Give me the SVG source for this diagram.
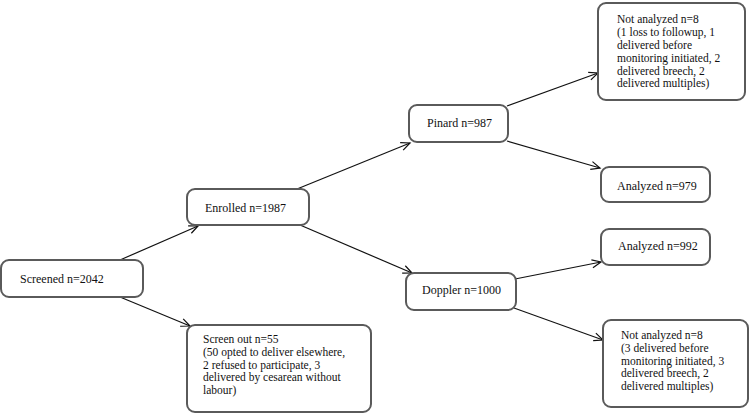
<svg xmlns="http://www.w3.org/2000/svg" width="750" height="415" viewBox="0 0 750 415">
<style>
.box{fill:#fff;stroke:#5a5a5a;stroke-width:2}
.c{stroke:#111;stroke-width:1.2;fill:none;marker-end:url(#a)}
</style>
<defs>
<marker id="a" markerWidth="12" markerHeight="12" refX="10" refY="5" orient="auto" markerUnits="userSpaceOnUse">
<path d="M1,1 L10,5 L1,9" fill="none" stroke="#111" stroke-width="1.2"/>
</marker>
</defs>
<g id="connectors">
<line class="c" x1="120" y1="260" x2="198" y2="226"/>
<line class="c" x1="120" y1="297" x2="190" y2="326"/>
<line class="c" x1="297" y1="189" x2="410" y2="143"/>
<line class="c" x1="300" y1="225" x2="412" y2="273"/>
<line class="c" x1="507" y1="106" x2="598" y2="73"/>
<line class="c" x1="507" y1="141" x2="600" y2="168"/>
<line class="c" x1="515" y1="279" x2="601" y2="262"/>
<line class="c" x1="514" y1="308" x2="603" y2="340"/>
</g>
<g font-family="Liberation Serif, Times New Roman, serif" font-size="12" fill="#111">
<g id="screened">
<rect class="box" x="1" y="260" width="142" height="37" rx="8"/>
<text x="20" y="283">Screened n=2042</text>
</g>
<g id="enrolled">
<rect class="box" x="187" y="189" width="122" height="36" rx="8"/>
<text x="205" y="212">Enrolled n=1987</text>
</g>
<g id="pinard">
<rect class="box" x="409" y="105" width="99" height="37" rx="8"/>
<text x="427" y="127">Pinard n=987</text>
</g>
<g id="doppler">
<rect class="box" x="406" y="273" width="110" height="37" rx="8"/>
<text x="422" y="294">Doppler n=1000</text>
</g>
<g id="screenout" font-size="11.5">
<rect class="box" x="187" y="325" width="184" height="87" rx="8"/>
<text x="203" y="343">Screen out n=55</text>
<text x="203" y="355.8">(50 opted to deliver elsewhere,</text>
<text x="203" y="368.6">2 refused to participate, 3</text>
<text x="203" y="381.4">delivered by cesarean without</text>
<text x="203" y="394.2">labour)</text>
</g>
<g id="notanalyzed1" font-size="11.5">
<rect class="box" x="598" y="3" width="147" height="97" rx="8"/>
<text x="617" y="23.3">Not analyzed n=8</text>
<text x="617" y="36.1">(1 loss to followup, 1</text>
<text x="617" y="48.9">delivered before</text>
<text x="617" y="61.7">monitoring initiated, 2</text>
<text x="617" y="74.5">delivered breech, 2</text>
<text x="617" y="87.3">delivered multiples)</text>
</g>
<g id="analyzed1">
<rect class="box" x="601" y="167" width="109" height="35" rx="8"/>
<text x="617" y="190">Analyzed n=979</text>
</g>
<g id="analyzed2">
<rect class="box" x="601" y="229" width="109" height="36" rx="8"/>
<text x="618" y="250">Analyzed n=992</text>
</g>
<g id="notanalyzed2" font-size="11.5">
<rect class="box" x="603" y="320" width="145" height="87" rx="8"/>
<text x="621" y="339">Not analyzed n=8</text>
<text x="621" y="351.8">(3 delivered before</text>
<text x="621" y="364.6">monitoring initiated, 3</text>
<text x="621" y="377.4">delivered breech, 2</text>
<text x="621" y="390.2">delivered multiples)</text>
</g>
</g>
</svg>
